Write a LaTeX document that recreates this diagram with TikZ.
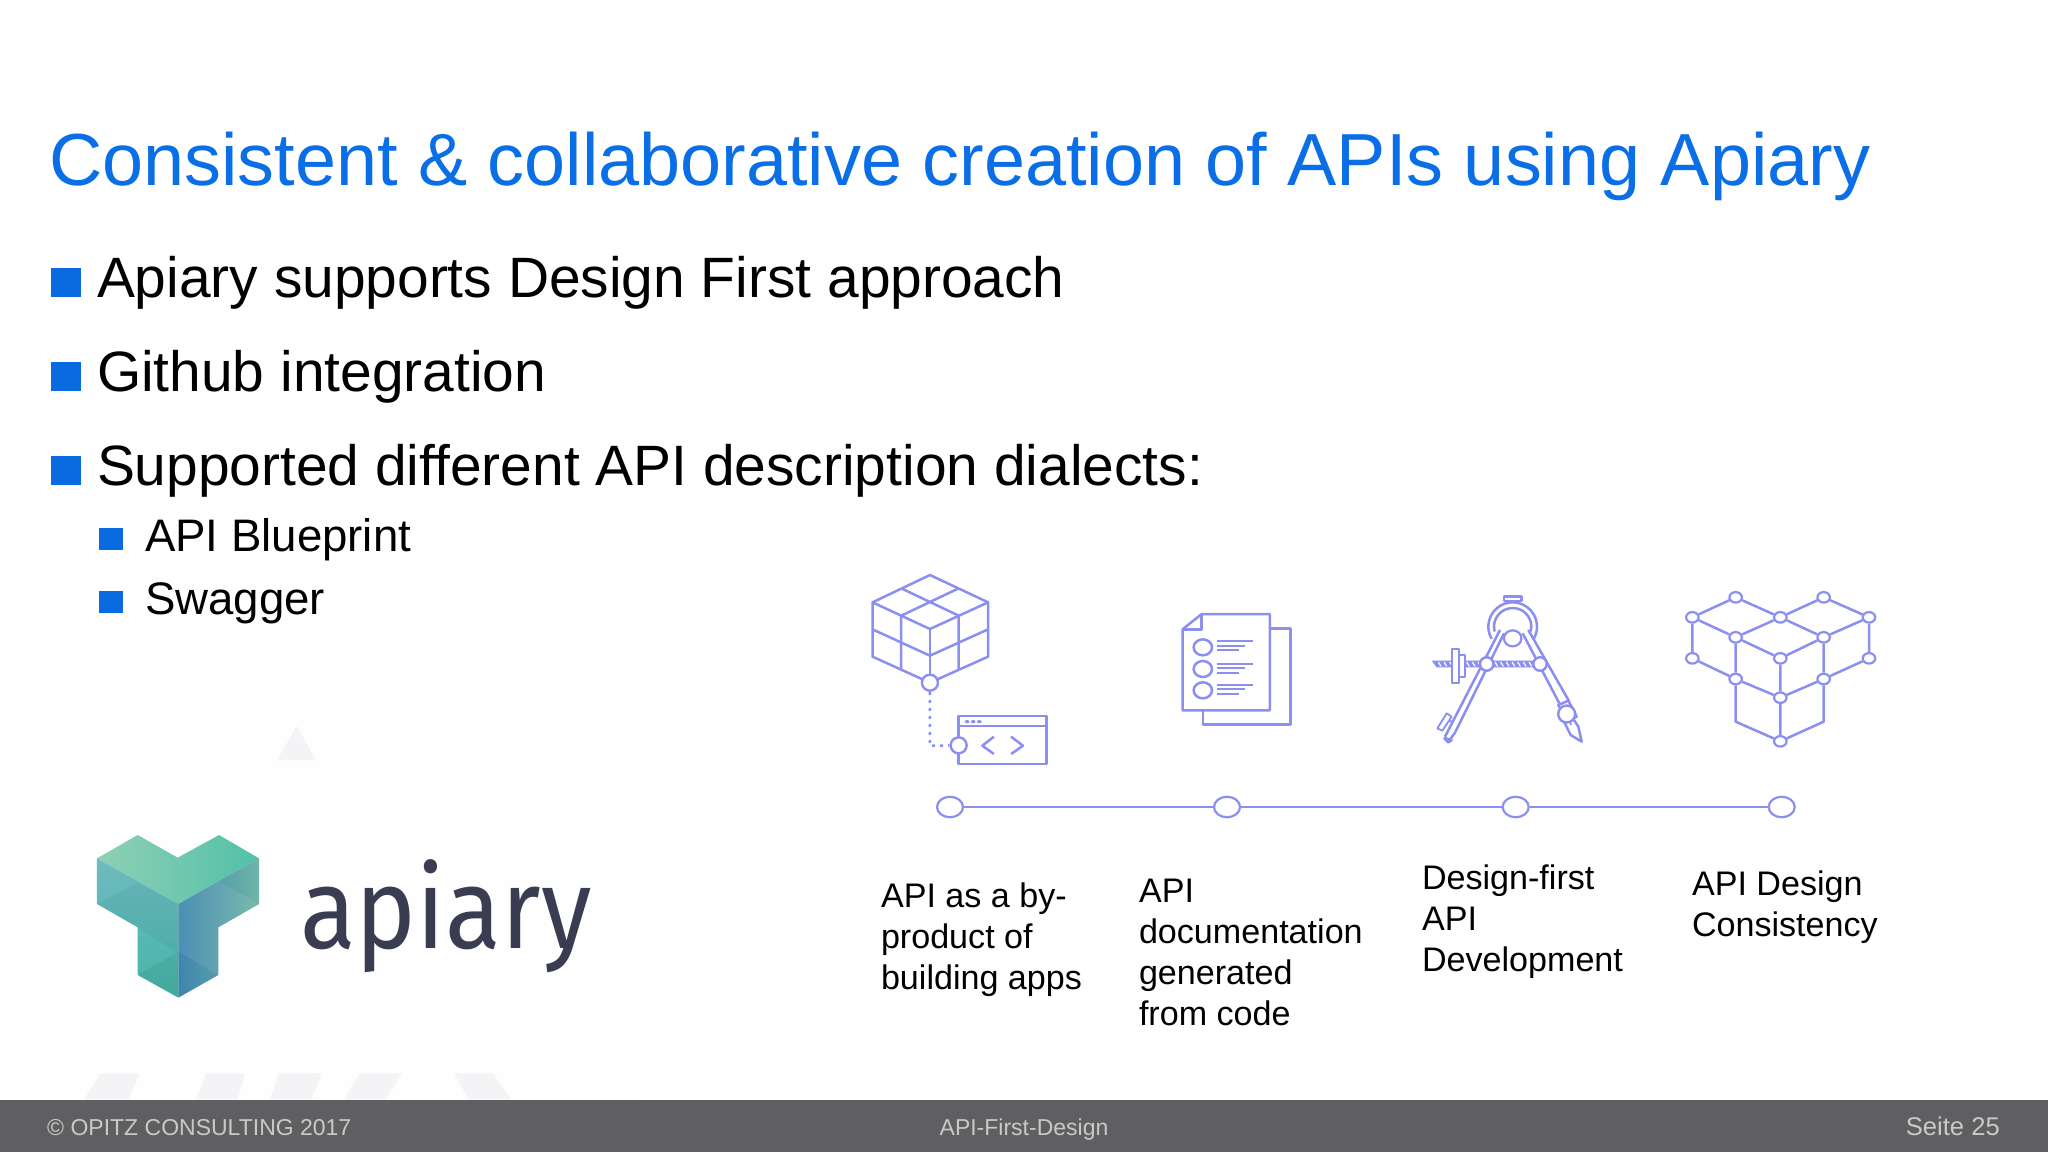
\documentclass[tikz,border=0pt]{standalone}
\usepackage{fontspec}
\setmainfont{Liberation Sans}
\newfontfamily\logofont{Fira Sans}
\usetikzlibrary{shapes.geometric}
\definecolor{slideblue}{HTML}{0A6EE6}
\definecolor{bulletblue}{HTML}{0A6BE0}
\definecolor{iconblue}{HTML}{8A8FF0}
\definecolor{footbar}{HTML}{5F5F62}
\definecolor{foottext}{HTML}{C9C9C9}
\definecolor{ghost}{HTML}{F4F3F6}
\definecolor{logoink}{HTML}{3A3D52}
\definecolor{HTMLa}{HTML}{8FD0B5}
\definecolor{HTMLb}{HTML}{52C0A8}
\definecolor{HTMLc}{HTML}{6FBBC0}
\definecolor{HTMLd}{HTML}{45B5A8}
\definecolor{HTMLe}{HTML}{3E85AE}
\definecolor{HTMLf}{HTML}{6FB5A8}
\tikzset{
  x=1pt,y=-1pt,
  txt/.style={anchor=base west,inner sep=0pt,outer sep=0pt},
  titletxt/.style={txt,text=slideblue,font=\fontsize{73.8}{80}\selectfont},
  lvlone/.style={txt,text=black,font=\fontsize{56.9}{66}\selectfont},
  lvltwo/.style={txt,text=black,font=\fontsize{45.6}{54}\selectfont},
  steplabel/.style={anchor=north west,inner sep=0pt,outer sep=0pt,align=left,text=black,font=\fontsize{34.1}{41}\selectfont},
  foot/.style={anchor=base,inner sep=0pt,text=foottext,font=\fontsize{23}{28}\selectfont},
  blt/.style={fill=bulletblue,draw=none},
  ico/.style={draw=iconblue,line width=2.5pt,line join=round,fill=none},
  thin ico/.style={draw=iconblue,line width=1.8pt,line join=round},
  tnode/.style={ellipse,draw=iconblue,fill=white,line width=2.2pt,minimum width=26pt,minimum height=20.5pt,inner sep=0pt},
  gnode/.style={ellipse,draw=iconblue,fill=white,line width=2.2pt,minimum width=12.5pt,minimum height=10.5pt,inner sep=0pt},
  hub/.style={circle,draw=iconblue,fill=white,line width=2.4pt,minimum size=16pt,inner sep=0pt},
  ghostshape/.style={fill=ghost,draw=none}
}
\begin{document}
\begin{tikzpicture}
\useasboundingbox (0,0) rectangle (2048,1152);
\fill[white] (0,0) rectangle (2048,1152);
\fill[white!99!iconblue] (80,600) rectangle (640,1100);
% title and bullets
\node[titletxt] (title) at (49,185) {Consistent \& collaborative creation of APIs using Apiary};
\fill[blt] (51,268) rectangle (81,297);
\node[lvlone] (b1) at (97,297.5) {Apiary supports Design First approach};
\fill[blt] (51,362) rectangle (81,391);
\node[lvlone] (b2) at (97,391.5) {Github integration};
\fill[blt] (51,456) rectangle (81,485);
\node[lvlone] (b3) at (97,485.5) {Supported different API description dialects:};
\fill[blt] (99,528) rectangle (123,550);
\node[lvltwo] (s1) at (145,551) {API Blueprint};
\fill[blt] (99,591) rectangle (123,613);
\node[lvltwo] (s2) at (145,614) {Swagger};
% ghost marks and logo (zoom coordinates)
\begin{scope}[shift={(60,700)},xscale=1/2.703,yscale=1/3]
  \fill[ghostshape] (640,78) -- (692,180) -- (587,180) -- cycle;
  \fill[ghostshape] (110,1120) -- (215,1120) -- (185,1198) -- (65,1198) -- cycle;
  \fill[ghostshape] (395,1120) -- (500,1120) -- (480,1198) -- (368,1198) -- cycle;
  \fill[ghostshape] (590,1120) -- (708,1120) -- (680,1198) -- (568,1198) -- cycle;
  \fill[ghostshape] (810,1120) -- (925,1120) -- (880,1198) -- (768,1198) -- cycle;
  \fill[ghostshape] (1065,1120) -- (1170,1120) -- (1220,1198) -- (1105,1198) -- cycle;
  % logo faces
  \shade[left color=HTMLa,right color=HTMLb] (210,405) -- (318,473) -- (430,405) -- (538,475) -- (320,612) -- (100,475) -- cycle;
  \shade[top color=HTMLc,bottom color=HTMLd] (100,475) -- (320,612) -- (320,893) -- (210,825) -- (210,682) -- (100,612) -- cycle;
  \shade[left color=HTMLe,right color=HTMLf] (538,475) -- (320,612) -- (320,893) -- (428,825) -- (428,682) -- (538,612) -- cycle;
  \fill[black,opacity=.04] (100,612) -- (210,548) -- (320,612) -- (320,760) -- (210,682) -- cycle;
  \fill[black,opacity=.06] (210,825) -- (320,755) -- (320,893) -- cycle;
  \fill[white,opacity=.08] (538,612) -- (430,545) -- (320,612) -- (320,755) -- (428,825) -- (428,682) -- cycle;
\end{scope}
\node[txt,text=logoink,font=\logofont\fontsize{114}{120}\selectfont] (logo) at (300,948) {\scalebox{.90}[1]{apiary}};
% cube with code window
\begin{scope}[shift={(840,550)},xscale=1/2.613,yscale=1/3]
  \draw[ico] (235,75) -- (387,157) -- (387,320) -- (235,398) -- (85,320) -- (85,157) -- cycle;
  \draw[ico] (85,157) -- (235,237) -- (387,157);
  \draw[ico] (235,237) -- (235,398);
  \draw[ico] (160,115) -- (310,197) -- (310,357);
  \draw[ico] (310,115) -- (160,197) -- (160,357);
  \draw[ico] (85,238) -- (235,317) -- (387,238);
  \draw[ico] (310,498) rectangle (540,642);
  \draw[ico] (310,528) -- (540,528);
  \foreach \p in {332,348,364} \fill[iconblue] (\p,515) ellipse (6 and 5);
  \draw[ico] (402,560) -- (372,587) -- (402,612);
  \draw[ico] (447,560) -- (478,587) -- (447,612);
  \coordinate (elbow) at (235,587);
  \node[hub] (cubehub) at (235,398) {};
  \node[hub] (winhub) at (310,586) {};
  \draw[ico,dash pattern=on 3pt off 5pt] (cubehub) -- (elbow) -- (winhub);
  % documents
  \draw[ico] (1123,235) -- (1177,235) -- (1177,523) -- (948,523) -- (948,481);
  \draw[ico] (945,192) -- (1123,192) -- (1123,481) -- (895,481) -- (895,238) -- cycle;
  \draw[ico] (945,192) -- (945,238) -- (895,238);
  \foreach \c/\a/\b/\d in {292/272/287/301,357/341/355/369,421/404/418/432}{
    \draw[ico] (948,\c) ellipse (24 and 24);
    \draw[thin ico] (985,\a) -- (1080,\a);
    \draw[thin ico] (985,\b) -- (1058,\b);
    \draw[thin ico] (985,\d) -- (1043,\d);
  }
\end{scope}
% compass and cube graph
\begin{scope}[shift={(1400,570)},scale=1/3]
  % knob and ring
  \draw[ico,fill=white] (312,80) rectangle (365,93);
  \draw[thin ico] (328,93) -- (328,103) (348,93) -- (348,103);
  \draw[ico] (338,170) ++(150:73) arc[start angle=150,end angle=390,radius=73];
  \draw[ico] (338,170) ++(165:56) arc[start angle=165,end angle=375,radius=56];
  % screw
  \fill[iconblue] (95,272) -- (420,272) -- (420,292) -- (110,292) -- cycle;
  \foreach \h in {115,132,...,395} \draw[white,line width=1.2pt] (\h,276) -- (\h+8,289);
  \draw[thin ico,fill=white] (155,238) rectangle (177,340);
  \draw[thin ico,fill=white] (177,255) rectangle (195,322);
  % legs
  \draw[ico] (300,180) -- (135,500) (312,190) -- (165,488);
  \draw[ico] (135,500) -- (145,515) -- (165,488);
  \draw[ico,fill=iconblue] (133,505) -- (155,510) -- (145,517) -- cycle;
  \draw[thin ico] (112,475) -- (140,430) -- (155,440) -- (127,482) -- cycle;
  \draw[thin ico] (147,450) -- (158,458);
  \draw[ico] (368,190) -- (478,400) (385,180) -- (508,395);
  \draw[ico] (475,405) -- (505,392) -- (530,440) -- (500,455) -- cycle;
  \draw[ico] (492,455) -- (512,495) -- (545,515) -- (535,470) -- (522,450);
  \fill[iconblue] (512,462) circle (4);
  \node[ellipse,draw=iconblue,fill=white,line width=2.2pt,minimum width=17.5pt,minimum height=16pt,inner sep=0pt] (hinge) at (338,205) {};
  \node[hub,minimum size=13.5pt] (lefthinge) at (260,282) {};
  \node[hub,minimum size=13.5pt] (righthinge) at (420,282) {};
  \node[hub,minimum size=17pt] (penhub) at (500,432) {};
  % graph of cubes
  \foreach \n/\p in {a/{1007,82},b/{1271,82},c/{877,142},d/{1141,142},e/{1407,142},f/{1007,202},g/{1271,202},h/{1141,265},i/{877,265},j/{1407,265},k/{1007,327},l/{1271,327},m/{1141,383},n/{1141,514}}
    \node[gnode] (\n) at (\p) {};
  \coordinate (o) at (1007,455);
  \coordinate (q) at (1271,455);
  \draw[ico] (c) -- (a) (a) -- (d) (d) -- (b) (b) -- (e)
     (c) -- (f) (f) -- (h) (h) -- (g) (g) -- (e) (f) -- (d) (d) -- (g)
     (c) -- (i) (i) -- (k) (k) -- (m) (m) -- (l) (l) -- (j) (j) -- (e)
     (f) -- (k) (g) -- (l) (h) -- (m) (m) -- (n)
     (k) -- (o) -- (n) (n) -- (q) -- (l);
\end{scope}
% timeline
\node[tnode] (t1) at (950,807) {};
\node[tnode] (t2) at (1227,807) {};
\node[tnode] (t3) at (1515.7,807) {};
\node[tnode] (t4) at (1781.7,807) {};
\draw[ico] (t1) -- (t2);
\draw[ico] (t2) -- (t3);
\draw[ico] (t3) -- (t4);
% labels
\node[steplabel] (l1) at (881,883) {API as a by-\\product of\\building apps};
\node[steplabel] (l2) at (1139,879) {API\\documentation\\generated\\from code};
\node[steplabel] (l3) at (1422,865) {Design-first\\API\\Development};
\node[steplabel] (l4) at (1692,871) {API Design\\Consistency};
% footer
\fill[footbar] (0,1100) rectangle (2048,1152);
\node[foot,anchor=base west] (f1) at (47,1135.5) {© OPITZ CONSULTING 2017};
\node[foot] (f2) at (1024,1135.5) {API-First-Design};
\node[foot,anchor=base east,font=\fontsize{25.6}{28}\selectfont] (f3) at (2000,1135.5) {Seite 25};
\end{tikzpicture}
\end{document}
